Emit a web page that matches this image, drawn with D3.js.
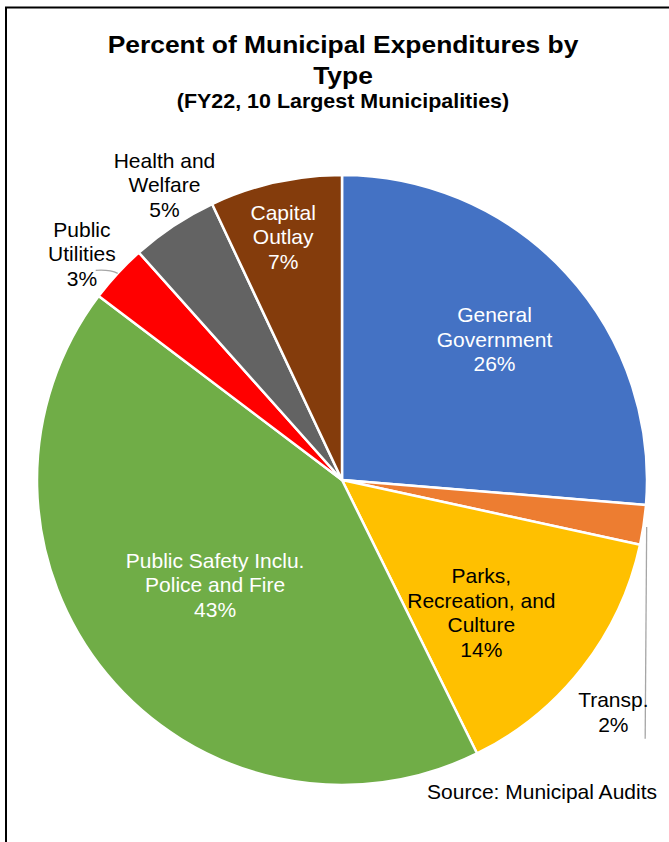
<!DOCTYPE html>
<html>
<head>
<meta charset="utf-8">
<script src="https://cdn.jsdelivr.net/npm/d3@7"></script>
<style>
  body { margin: 0; background: #fff; }
  text { font-family: "Liberation Sans", Arial, sans-serif; }
</style>
</head>
<body>
<svg width="669" height="842"></svg>
<script>
(function() {
  'use strict';

  // slice order is clockwise from 12 o'clock
  const categories = ['General Government', 'Transp.', 'Parks, Recreation, and Culture',
    'Public Safety Inclu. Police and Fire', 'Public Utilities', 'Health and Welfare', 'Capital Outlay'];
  const values = [26.3, 2.1, 14.3, 42.6, 3.1, 4.6, 7.0];
  const labelLines = [
    ['General', 'Government'],
    ['Transp.'],
    ['Parks,', 'Recreation, and', 'Culture'],
    ['Public Safety Inclu.', 'Police and Fire'],
    ['Public', 'Utilities'],
    ['Health and', 'Welfare'],
    ['Capital', 'Outlay'],
  ];
  const colors = ['#4472C4', '#ED7D31', '#FFC000', '#70AD47', '#FF0000', '#636363', '#843C0C'];
  const textColors = ['#fff', '#000', '#000', '#fff', '#000', '#000', '#fff'];

  const cx = 342;
  const cy = 480;
  const radius = 305;
  const lineH = 24.5;

  // label placement: radial factor, optional angle override (deg), leader line
  const labelPlace = [
    {r: 0.68},
    {r: 1.17, angle: 130.5, leader: 'vertical'},
    {r: 0.63, angle: 133.5},
    {r: 0.54},
    {r: 1.13, angle: 311, leader: 'curve'},
    {r: 1.13, angle: 329},
    {r: 0.82, angle: 346.4},
  ];

  const svg = d3.select('svg');

  // frame (left + top only)
  svg.append('path')
      .attr('d', 'M6,842 L6,7.5 L669,7.5')
      .attr('fill', 'none')
      .attr('stroke', '#000')
      .attr('stroke-width', 2);

  // title glyphs in the original are a little wider than Arial
  const title = svg.append('g')
      .attr('text-anchor', 'middle')
      .attr('font-weight', 'bold')
      .attr('transform', 'translate(343,0) scale(1.1,1)');
  title.append('text')
      .attr('x', 0).attr('y', 53.5)
      .attr('font-size', 24)
      .text('Percent of Municipal Expenditures by');
  title.append('text')
      .attr('x', 0).attr('y', 84)
      .attr('font-size', 24)
      .text('Type');
  title.append('text')
      .attr('x', 0).attr('y', 108)
      .attr('font-size', 19.5)
      .text('(FY22, 10 Largest Municipalities)');

  const data = categories.map((c, i) => ({
    name: c, value: values[i], lines: labelLines[i],
    color: colors[i], textColor: textColors[i], place: labelPlace[i],
  }));

  const pie = d3.pie().sort(null).value((d) => d.value);
  const arc = d3.arc().innerRadius(0).outerRadius(radius);
  const arcs = pie(data);

  const g = svg.append('g')
      .attr('transform', 'translate(' + cx + ',' + cy + ')');

  g.selectAll('path.slice')
      .data(arcs)
      .join('path')
      .attr('class', 'slice')
      .attr('d', arc)
      .attr('fill', (d) => d.data.color)
      .attr('stroke', '#fff')
      .attr('stroke-width', 2.5)
      .attr('stroke-linejoin', 'round');

  const polar = (a, r) => [r * Math.sin(a), -r * Math.cos(a)];

  arcs.forEach((d) => {
    const p = d.data.place;
    const mid = (d.startAngle + d.endAngle) / 2;
    const ang = p.angle !== undefined ? p.angle * Math.PI / 180 : mid;
    const [lx, ly] = polar(ang, radius * p.r);

    if (p.leader === 'vertical') {
      const [sx, sy] = polar(mid, radius + 1);
      g.append('path')
          .attr('d', 'M' + (sx + 2) + ',' + (sy + 2) + ' L' + (sx + 0.5) + ',' + (ly + 27))
          .attr('fill', 'none')
          .attr('stroke', '#A6A6A6')
          .attr('stroke-width', 1.3);
    } else if (p.leader === 'curve') {
      const [sx, sy] = polar(mid, radius);
      g.append('path')
          .attr('d', 'M' + sx + ',' + sy + ' Q' + (sx - 8) + ',' + (sy - 4) + ' ' + (sx - 22) + ',' + (sy - 3))
          .attr('fill', 'none')
          .attr('stroke', '#A6A6A6')
          .attr('stroke-width', 1.3);
    }

    const lines = d.data.lines.concat([Math.round(d.data.value) + '%']);
    const t = g.append('text')
        .attr('text-anchor', 'middle')
        .attr('font-size', 21)
        .attr('fill', d.data.textColor);
    lines.forEach((s, i) => {
      t.append('tspan')
          .attr('x', lx)
          .attr('y', ly - (lines.length - 1) * lineH / 2 + 7.5 + i * lineH)
          .text(s);
    });
  });

  svg.append('text')
      .attr('x', 657).attr('y', 799)
      .attr('text-anchor', 'end')
      .attr('font-size', 21)
      .text('Source: Municipal Audits');
})();
</script>
</body>
</html>
